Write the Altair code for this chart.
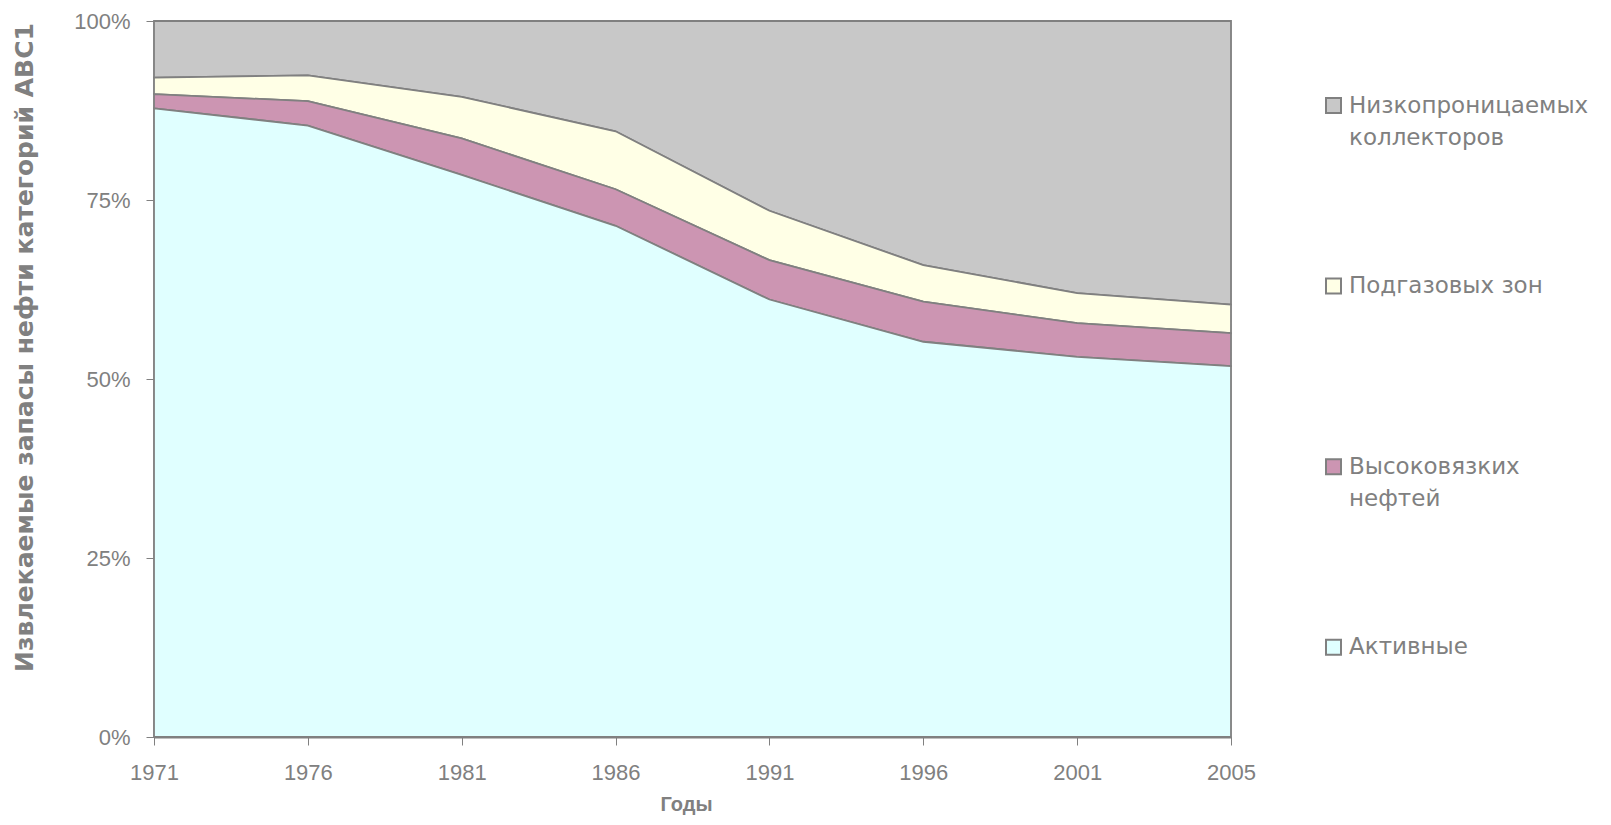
import altair as alt
import pandas as pd

years = ["1971", "1976", "1981", "1986", "1991", "1996", "2001", "2005"]
categories = ["Низкопроницаемых|коллекторов", "Подгазовых зон", "Высоковязких|нефтей", "Активные"]
stack_rank = [3, 2, 1, 0]
colors = ["#C8C8C8", "#FFFFE6", "#CC95B2", "#E0FFFF"]

active = [87.8, 85.4, 78.5, 71.4, 61.1, 55.2, 53.1, 51.8]
viscous = [2.0, 3.4, 5.1, 5.1, 5.5, 5.6, 4.7, 4.6]
gas = [2.3, 3.6, 5.8, 8.1, 6.9, 5.1, 4.2, 4.0]
lowperm = [7.9, 7.6, 10.6, 15.4, 26.5, 34.1, 38.0, 39.6]

series = [lowperm, gas, viscous, active]
rows = []
for cat, rank, vals in zip(categories, stack_rank, series):
    for yr, v in zip(years, vals):
        rows.append({"year": yr, "cat": cat, "rank": rank, "value": v})
df = pd.DataFrame(rows)

GRAY = "#808080"
TICKFONT = "Liberation Sans"

chart = alt.Chart(df).mark_area(
    opacity=1, stroke=GRAY, strokeWidth=1.8, interpolate="linear"
).encode(
    x=alt.X("year:O", scale=alt.Scale(type="point", padding=0), sort=years,
            axis=alt.Axis(title="Годы", labelAngle=0, labelFont=TICKFONT,
                          labelFontSize=22, labelColor=GRAY, labelPadding=17,
                          tickSize=8, tickColor=GRAY, domainColor=GRAY, domainWidth=2,
                          titleFont="Liberation Sans", titleFontWeight="bold", titleFontSize=20,
                          titleColor=GRAY, titleX=532, titleY=67, titleBaseline="middle",
                          titleAlign="center")),
    y=alt.Y("value:Q", stack="normalize",
            axis=alt.Axis(title="Извлекаемые запасы нефти категорий ABC1", format=".0%",
                          values=[0, 0.25, 0.5, 0.75, 1], grid=False,
                          labelFont=TICKFONT, labelFontSize=22, labelColor=GRAY,
                          labelPadding=16, tickSize=8, tickColor=GRAY, domainColor=GRAY,
                          domainWidth=2, titleFont="DejaVu Sans", titleFontWeight="bold",
                          titleFontSize=25, titleColor=GRAY, titleX=-130, titleY=326,
                          titleAngle=-90, titleBaseline="middle", titleAlign="center")),
    color=alt.Color("cat:N", scale=alt.Scale(domain=categories, range=colors),
                    legend=alt.Legend(title=None, orient="none", legendX=1168, legendY=73,
                                      symbolType="square", symbolSize=225,
                                      symbolStrokeColor=GRAY, symbolStrokeWidth=2,
                                      symbolOpacity=1, labelFont="DejaVu Sans",
                                      labelFontSize=23, labelColor=GRAY, labelLimit=500,
                                      labelExpr="split(datum.label, '|')",
                                      labelBaseline="middle", labelOffset=4,
                                      gridAlign="all", rowPadding=124.6, padding=0)),
    order=alt.Order("rank:Q", sort="ascending"),
).properties(
    width=1077, height=716,
    autosize=alt.AutoSizeParams(type="none"),
    padding={"left": 146, "top": 13, "right": 372, "bottom": 80},
).configure_view(
    stroke=GRAY, strokeWidth=2
).configure(
    background="white",
    style={"guide-label": {"lineHeight": 32}},
)

chart.save("out.html", embed_options={"renderer": "svg", "actions": False})
